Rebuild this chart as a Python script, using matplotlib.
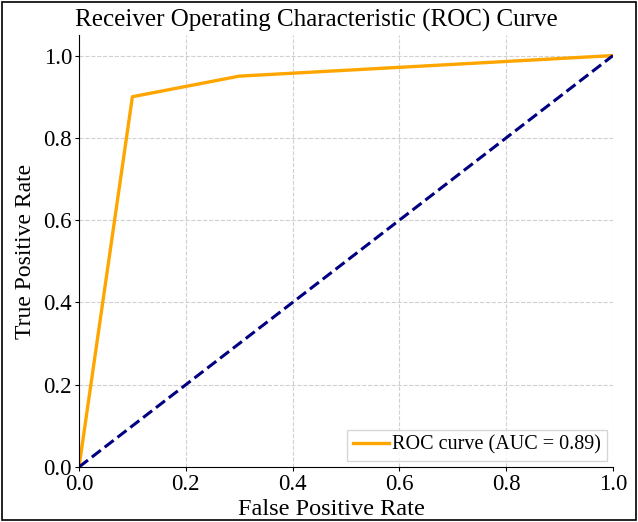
import matplotlib
matplotlib.use("Agg")
import matplotlib.pyplot as plt
from matplotlib.patches import Rectangle

fpr = [0.0, 0.10, 0.30, 1.0]
tpr = [0.0, 0.90, 0.95, 1.0]
diag = [0.0, 1.0]
auc_label = "ROC curve (AUC = 0.89)"
ticks = [0.0, 0.2, 0.4, 0.6, 0.8, 1.0]

plt.rcParams['font.family'] = ['Liberation Serif', 'DejaVu Serif']

fig = plt.figure(figsize=(6.38, 5.22), dpi=100)
ax = fig.add_axes([79/638, 55/522, 534/638, 432/522])

ax.plot(fpr, tpr, color='orange', lw=2.4, label=auc_label)
ax.plot(diag, diag, color='navy', lw=2.2, ls='--')

ax.set_xlim(0, 1.0)
ax.set_ylim(0, 1.05)
ax.set_xticks(ticks)
ax.set_yticks(ticks)
ax.set_xticklabels([f"{t:.1f}" for t in ticks])
ax.set_yticklabels([f"{t:.1f}" for t in ticks])
ax.tick_params(labelsize=16.5, length=3, width=0.8, pad=2)
ax.grid(True, ls='--', color='#d0d0d0', lw=0.8)
ax.spines['top'].set_visible(False)
ax.spines['right'].set_visible(False)

ax.set_xlabel("False Positive Rate", fontsize=17.5, labelpad=2)
ax.xaxis.set_label_coords((331 - 79) / 534, -0.075)
ax.set_ylabel("True Positive Rate", fontsize=17, labelpad=5)
fig.text(316 / 638, 1 - 20 / 522, "Receiver Operating Characteristic (ROC) Curve",
         fontsize=18, ha='center', va='center')
ax.legend(loc='lower right', fontsize=14.5, handlelength=1.8, handletextpad=0.15,
          borderpad=0.3, borderaxespad=0.3, fancybox=False)

fig.patches.append(Rectangle((0.003, 0.003), 0.994, 0.994, transform=fig.transFigure,
                             fill=False, edgecolor='black', lw=1.2))

fig.savefig("out.png", dpi=100)
